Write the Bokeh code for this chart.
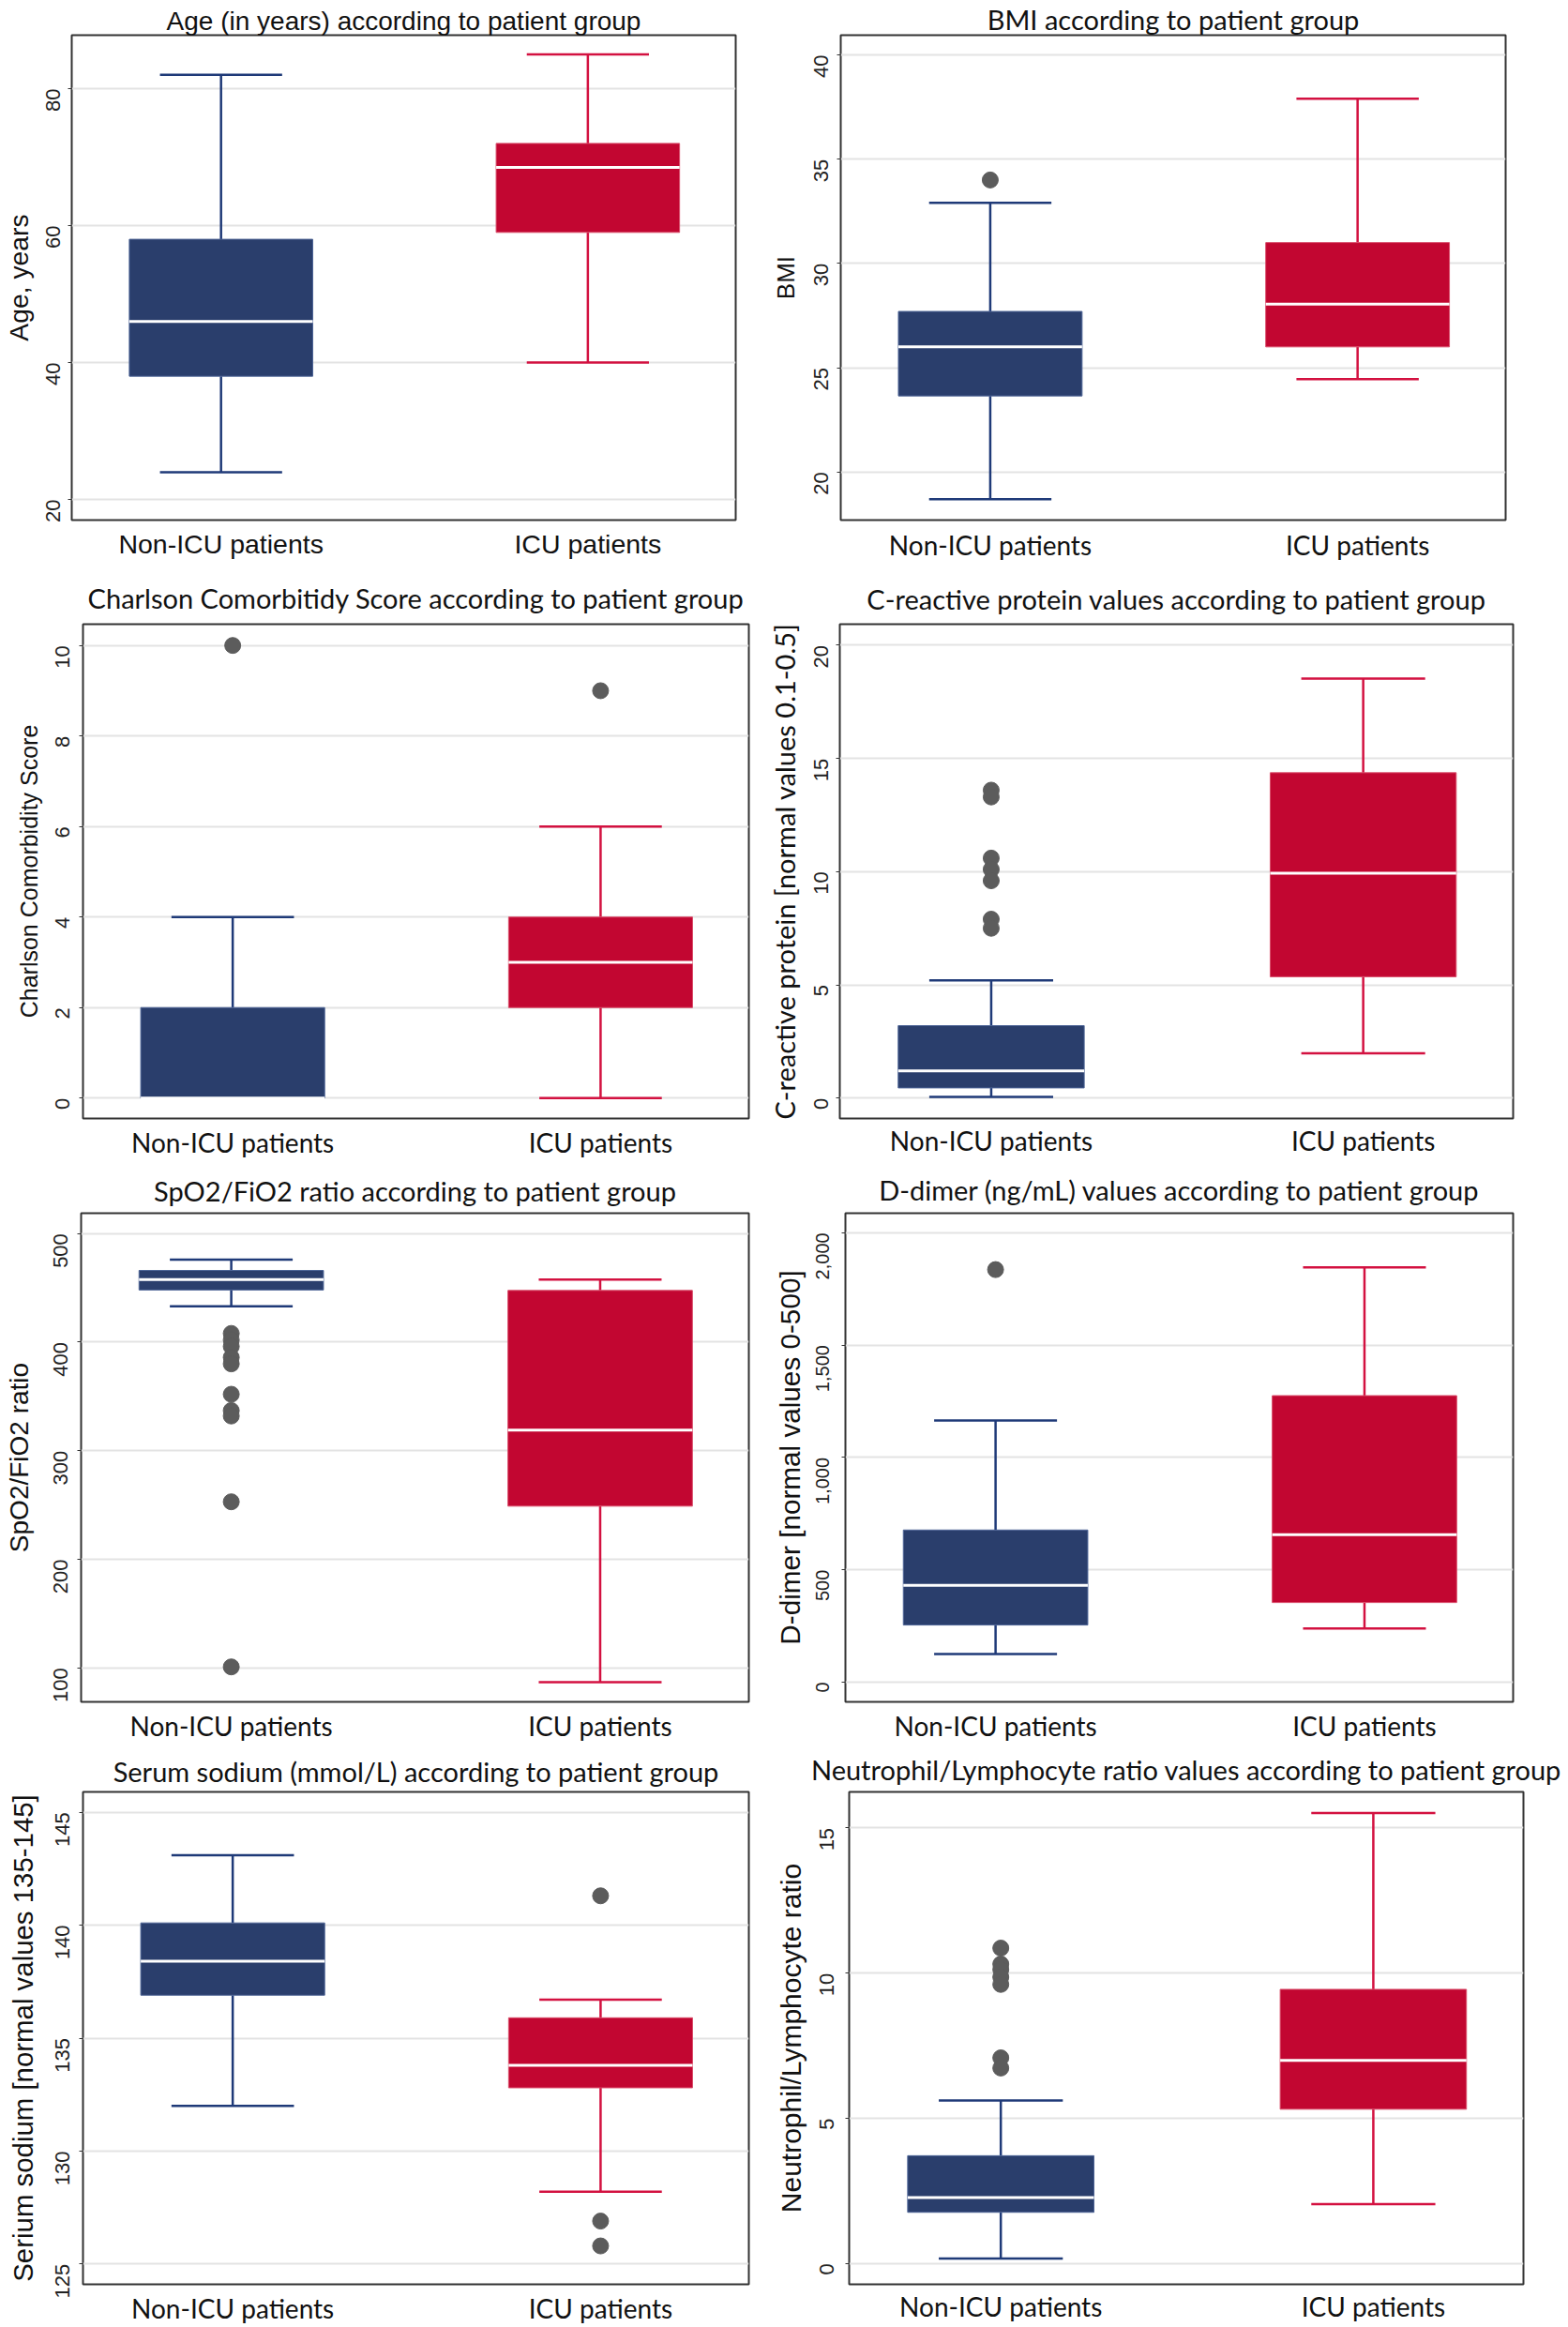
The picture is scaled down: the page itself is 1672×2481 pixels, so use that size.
import math
from bokeh.plotting import figure
from bokeh.models import ColumnDataSource, Range1d, FixedTicker, NumeralTickFormatter, Title
from bokeh.layouts import column, row
from bokeh.embed import file_html
from bokeh.resources import INLINE

# ---------------- data ----------------
categories = ["Non-ICU patients", "ICU patients"]

age_low = [24, 40]
age_q1 = [38, 59]
age_median = [46, 68.5]
age_q3 = [58, 72]
age_high = [82, 85]
age_out_non_icu = []
age_out_icu = []
age_ticks = [20, 40, 60, 80]

bmi_low = [18.7, 24.45]
bmi_q1 = [23.65, 26.0]
bmi_median = [26.0, 28.05]
bmi_q3 = [27.7, 31.0]
bmi_high = [32.9, 37.9]
bmi_out_non_icu = [34.0]
bmi_out_icu = []
bmi_ticks = [20, 25, 30, 35, 40]

cci_low = [0, 0]
cci_q1 = [0, 2]
cci_median = [0, 3]
cci_q3 = [2, 4]
cci_high = [4, 6]
cci_out_non_icu = [10]
cci_out_icu = [9]
cci_ticks = [0, 2, 4, 6, 8, 10]

crp_low = [0.05, 1.98]
crp_q1 = [0.45, 5.36]
crp_median = [1.2, 9.93]
crp_q3 = [3.2, 14.37]
crp_high = [5.2, 18.53]
crp_out_non_icu = [13.6, 13.3, 10.6, 10.1, 9.6, 7.9, 7.5]
crp_out_icu = []
crp_ticks = [0, 5, 10, 15, 20]

spo2_low = [433, 87]
spo2_q1 = [448, 249]
spo2_median = [457.7, 319]
spo2_q3 = [466, 447.6]
spo2_high = [476, 457.7]
spo2_out_non_icu = [408, 402, 396, 386, 380, 352, 337, 332, 253, 101]
spo2_out_icu = []
spo2_ticks = [100, 200, 300, 400, 500]

ddimer_low = [125, 239]
ddimer_q1 = [254, 354]
ddimer_median = [431, 656]
ddimer_q3 = [677, 1275]
ddimer_high = [1164, 1846]
ddimer_out_non_icu = [1836]
ddimer_out_icu = []
ddimer_ticks = [0, 500, 1000, 1500, 2000]

sodium_low = [132.0, 128.2]
sodium_q1 = [136.9, 132.8]
sodium_median = [138.4, 133.8]
sodium_q3 = [140.1, 135.9]
sodium_high = [143.1, 136.7]
sodium_out_non_icu = []
sodium_out_icu = [141.3, 126.9, 125.8]
sodium_ticks = [125, 130, 135, 140, 145]

nlr_low = [0.17, 2.04]
nlr_q1 = [1.76, 5.31]
nlr_median = [2.27, 6.99]
nlr_q3 = [3.71, 9.44]
nlr_high = [5.61, 15.51]
nlr_out_non_icu = [10.86, 10.31, 10.12, 9.86, 9.61, 7.08, 6.73]
nlr_out_icu = []
nlr_ticks = [0, 5, 10, 15]

# ---------------- styling ----------------
BOX_FILL = ["#2a3e6c", "#c20631"]
BOX_EDGE = ["#4d6496", "#d94d6a"]
WHISK = ["#1f3a78", "#d31140"]
OUT_COLOR = "#5c5c5c"
ARIAL = "Liberation Sans"
CAL = "Lato"
BOX_W = 0.5
CAP_W = 0.333


def panel(title, ylabel, yrange, yticks, low, q1, med, q3, high, out_non, out_icu,
          width, height, borders, title_font, title_size, title_standoff,
          xlab_font, xlab_size, xlab_standoff, ylab_font, ylab_size, ylab_standoff,
          tick_size=22, tick_standoff=18, fmt=None):
    xs = [i + 1 for i in range(len(categories))]
    p = figure(width=width, height=height, output_backend="svg", toolbar_location=None,
               x_range=Range1d(0.593, 2.403), y_range=Range1d(*yrange),
               min_border_left=borders[0], min_border_right=borders[1],
               min_border_top=borders[2], min_border_bottom=borders[3])
    p.title = Title(text=title, text_font=title_font, text_font_size=f"{title_size}px",
                    text_font_style="normal", align="center", text_color="#111111",
                    standoff=title_standoff)
    p.background_fill_color = "white"
    p.border_fill_color = "white"
    p.outline_line_color = "#333333"
    p.outline_line_width = 2

    # grid
    p.xgrid.visible = False
    p.ygrid.ticker = FixedTicker(ticks=yticks)
    p.ygrid.grid_line_color = "#e3e3e3"
    p.ygrid.grid_line_width = 2

    # x axis (category names)
    p.xaxis.ticker = FixedTicker(ticks=xs)
    p.xaxis.major_label_overrides = {x: c for x, c in zip(xs, categories)}
    p.xaxis.major_label_text_font = xlab_font
    p.xaxis.major_label_text_font_size = f"{xlab_size}px"
    p.xaxis.major_label_text_line_height = 1.0
    p.xaxis.major_label_text_color = "#111111"
    p.xaxis.major_label_standoff = int(xlab_standoff)
    p.xaxis.major_tick_out = 0
    p.xaxis.major_tick_in = 0
    p.xaxis.major_tick_line_color = None
    p.xaxis.minor_tick_line_color = None
    p.xaxis.axis_line_color = None

    # y axis
    p.yaxis.ticker = FixedTicker(ticks=yticks)
    if fmt is not None:
        p.yaxis.formatter = fmt
    p.yaxis.major_label_orientation = math.pi / 2
    p.yaxis.major_label_text_font = ARIAL
    p.yaxis.major_label_text_font_size = f"{tick_size}px"
    p.yaxis.major_label_text_color = "#222222"
    p.yaxis.major_label_standoff = int(tick_standoff)
    p.yaxis.major_tick_out = 4
    p.yaxis.major_tick_in = 0
    p.yaxis.major_tick_line_color = "#333333"
    p.yaxis.major_tick_line_width = 1
    p.yaxis.minor_tick_line_color = None
    p.yaxis.axis_line_color = None
    p.yaxis.axis_label = ylabel
    p.yaxis.axis_label_text_font = ylab_font
    p.yaxis.axis_label_text_font_size = f"{ylab_size}px"
    p.yaxis.axis_label_text_font_style = "normal"
    p.yaxis.axis_label_text_color = "#111111"
    p.yaxis.axis_label_standoff = int(ylab_standoff)

    src = ColumnDataSource(dict(
        x=xs, low=low, q1=q1, med=med, q3=q3, high=high,
        box_l=[x - BOX_W / 2 for x in xs], box_r=[x + BOX_W / 2 for x in xs],
        cap_l=[x - CAP_W / 2 for x in xs], cap_r=[x + CAP_W / 2 for x in xs],
        fill=BOX_FILL, edge=BOX_EDGE, wc=WHISK))

    # whiskers
    p.segment(x0="x", y0="q3", x1="x", y1="high", source=src, line_color="wc", line_width=2.5)
    p.segment(x0="x", y0="low", x1="x", y1="q1", source=src, line_color="wc", line_width=2.5)
    p.segment(x0="cap_l", y0="high", x1="cap_r", y1="high", source=src, line_color="wc", line_width=2.5)
    p.segment(x0="cap_l", y0="low", x1="cap_r", y1="low", source=src, line_color="wc", line_width=2.5)
    # boxes
    p.quad(left="box_l", right="box_r", bottom="q1", top="q3", source=src,
           fill_color="fill", line_color="edge", line_width=1)
    # medians
    p.segment(x0="box_l", y0="med", x1="box_r", y1="med", source=src, line_color="white", line_width=3)

    # outliers
    ox = [xs[0]] * len(out_non) + [xs[1]] * len(out_icu)
    oy = list(out_non) + list(out_icu)
    if oy:
        p.scatter(ox, oy, size=17, marker="circle", fill_color=OUT_COLOR, line_color=OUT_COLOR)
    return p


W1, W2 = 812, 858
H1, H2, H3, H4 = 600, 640, 620, 620

p1 = panel("Age (in years) according to patient group", "Age, years", (17.0, 87.8), age_ticks,
           age_low, age_q1, age_median, age_q3, age_high, age_out_non_icu, age_out_icu,
           W1, H1, (75, 28, 36, 44), ARIAL, 28, 0, ARIAL, 28.5, 9, ARIAL, 28.3, 3,
           tick_standoff=16)
p2 = panel("BMI according to patient group", "BMI", (17.7, 40.94), bmi_ticks,
           bmi_low, bmi_q1, bmi_median, bmi_q3, bmi_high, bmi_out_non_icu, bmi_out_icu,
           W2, H1, (84, 65, 36, 44), CAL, 29, 0, CAL, 28, 9, ARIAL, 26, 5, tick_standoff=17)
p3 = panel("Charlson Comorbitidy Score according to patient group", "Charlson Comorbidity Score",
           (-0.45, 10.47), cci_ticks,
           cci_low, cci_q1, cci_median, cci_q3, cci_high, cci_out_non_icu, cci_out_icu,
           W1, H2, (88, 14, 65, 48), CAL, 29, 21, CAL, 28, 8, ARIAL, 25, 4, tick_standoff=18)
p4 = panel("C-reactive protein values according to patient group",
           "C-reactive protein [normal values 0.1-0.5]", (-0.9, 20.93), crp_ticks,
           crp_low, crp_q1, crp_median, crp_q3, crp_high, crp_out_non_icu, crp_out_icu,
           W2, H2, (83, 57, 65, 48), CAL, 29, 19, CAL, 28, 6, CAL, 29, 4, tick_standoff=16)
p5 = panel("SpO2/FiO2 ratio according to patient group", "SpO2/FiO2 ratio", (68.8, 518.7), spo2_ticks,
           spo2_low, spo2_q1, spo2_median, spo2_q3, spo2_high, spo2_out_non_icu, spo2_out_icu,
           W1, H3, (86, 14, 51, 44), CAL, 29, 14, CAL, 28, 8, ARIAL, 28, 11, tick_standoff=18)
p6 = panel("D-dimer (ng/mL) values according to patient group", "D-dimer [normal values 0-500]",
           (-88, 2087), ddimer_ticks,
           ddimer_low, ddimer_q1, ddimer_median, ddimer_q3, ddimer_high, ddimer_out_non_icu, ddimer_out_icu,
           W2, H3, (89, 57, 49, 46), CAL, 29, 16, CAL, 28, 8, ARIAL, 29.7, 2,
           tick_size=20, tick_standoff=20, fmt=NumeralTickFormatter(format="0,0"))
p7 = panel("Serum sodium (mmol/L) according to patient group", "Serium sodium [normal values 135-145]",
           (124.1, 145.9), sodium_ticks,
           sodium_low, sodium_q1, sodium_median, sodium_q3, sodium_high, sodium_out_non_icu, sodium_out_icu,
           W1, H4, (88, 14, 50, 44), CAL, 29, 9, CAL, 28, 8, ARIAL, 29.4, 8, tick_standoff=18)
p8 = panel("Neutrophil/Lymphocyte ratio values according to patient group", "Neutrophil/Lymphocyte ratio",
           (-0.72, 16.24), nlr_ticks,
           nlr_low, nlr_q1, nlr_median, nlr_q3, nlr_high, nlr_out_non_icu, nlr_out_icu,
           W2, H4, (93, 46, 50, 44), CAL, 29, 13, CAL, 28, 6, ARIAL, 30, 4, tick_standoff=20)

layout = column(row(p1, p2), row(p3, p4), row(p5, p6), row(p7, p8))

open("out.html", "w").write(file_html(layout, INLINE))
